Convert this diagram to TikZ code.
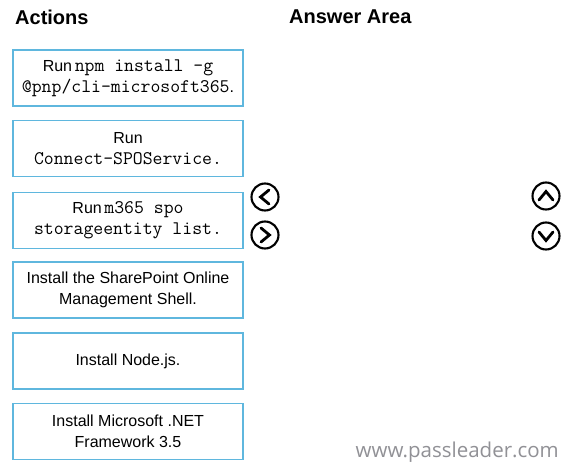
\documentclass[tikz,border=0pt]{standalone}
\usepackage{fontspec}
\setmainfont{Liberation Sans}
\newfontfamily\wmfont{Open Sans}
\definecolor{boxblue}{RGB}{95,183,222}
\definecolor{wmgray}{RGB}{145,145,150}
\newcommand{\cmd}[1]{{\fontsize{19.2}{21}\selectfont\ttfamily #1}}
\tikzset{
  actbox/.style={draw=boxblue, line width=1.4pt, minimum width=230pt, minimum height=56pt,
    inner sep=0pt, align=center, font=\fontsize{16}{21}\selectfont},
  heading/.style={font=\fontsize{20}{24}\selectfont\bfseries, anchor=base west, inner sep=0pt},
  navcircle/.style={draw=black, line width=2.1pt, circle, minimum size=27pt, inner sep=0pt},
  chev/.style={line width=2.8pt, line cap=round, line join=miter}
}
\begin{document}
\begin{tikzpicture}[x=1pt,y=-1pt]
\useasboundingbox[fill=white] (0,0) rectangle (575,470);
\node[heading] (hact) at (15,25) {Actions};
\node[heading] (hans) at (289,24) {Answer Area};

\node[actbox] (b1) at (128,78) {Run\,\cmd{npm install -g}\\\cmd{@pnp/cli-microsoft365}.};
\node[actbox] (b2) at (128,148.5) {Run\\\cmd{Connect-SPOService.}};
\node[actbox] (b3) at (128,220.5) {Run\,\cmd{m365 spo}\\\cmd{storageentity list.}};
\node[actbox] (b4) at (128,290) {Install the SharePoint Online\\Management Shell.};
\node[actbox] (b5) at (128,361) {Install Node.js.};
\node[actbox] (b6) at (128,431.5) {Install Microsoft .NET\\Framework 3.5};

\node[navcircle] (cl) at (265,197) {};
\node[navcircle] (cr) at (265,235) {};
\node[navcircle] (cu) at (546,196) {};
\node[navcircle] (cd) at (546,236) {};
\draw[chev] ([shift={(4,-7)}]cl.center) -- ([shift={(-4.5,0)}]cl.center) -- ([shift={(4,7)}]cl.center);
\draw[chev] ([shift={(-4,-7)}]cr.center) -- ([shift={(4.5,0)}]cr.center) -- ([shift={(-4,7)}]cr.center);
\draw[chev] ([shift={(-7,4)}]cu.center) -- ([shift={(0,-4.5)}]cu.center) -- ([shift={(7,4)}]cu.center);
\draw[chev] ([shift={(-7,-4)}]cd.center) -- ([shift={(0,4.5)}]cd.center) -- ([shift={(7,-4)}]cd.center);

\node[font=\wmfont\fontsize{20.5}{24}\selectfont, text=wmgray, anchor=base east, inner sep=0pt] (wm) at (559,457) {www.passleader.com};
\end{tikzpicture}
\end{document}
